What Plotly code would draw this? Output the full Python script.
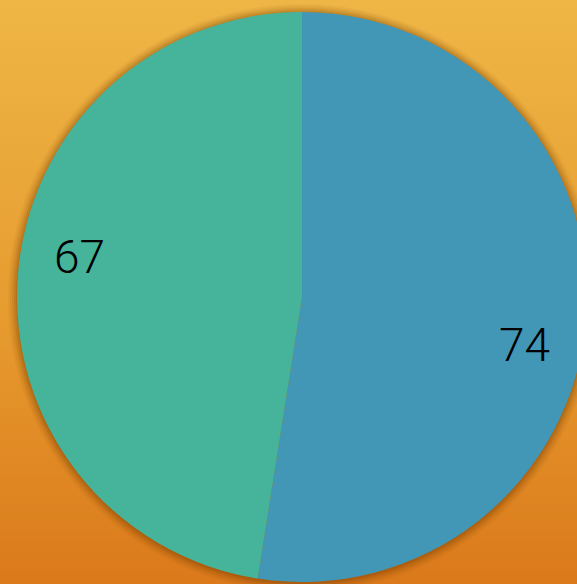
import base64
import math
import plotly.graph_objects as go

# ---- data ----
labels = ["Series A", "Series B"]
values = [74, 67]
slice_colors = ["#4297B6", "#45B49B"]

# ---- geometry (pixels) ----
FIG_W, FIG_H = 610, 600
CX, CY, R = 302, 297, 285
LABEL_R = 0.797 * R
LABEL_ANGLE_SHIFT = 6.7  # degrees, clockwise


def domain_for(cx, cy, r):
    return dict(
        x=[(cx - r) / FIG_W, (cx + r) / FIG_W],
        y=[(FIG_H - cy - r) / FIG_H, (FIG_H - cy + r) / FIG_H],
    )


fig = go.Figure()

# soft shadow halo behind the pie
for k, a in [(9, 0.05), (7, 0.08), (5, 0.11), (3, 0.14), (1, 0.18)]:
    fig.add_trace(go.Pie(
        values=[1], labels=["shadow"], sort=False,
        domain=domain_for(CX, CY + 1, R + k),
        marker=dict(colors=[f"rgba(120,60,0,{a})"], line=dict(width=0)),
        textinfo="none", hoverinfo="skip", showlegend=False,
    ))

fig.add_trace(go.Pie(
    labels=labels, values=values, sort=False,
    direction="clockwise", rotation=0,
    domain=domain_for(CX, CY, R),
    marker=dict(colors=slice_colors, line=dict(width=0)),
    textinfo="none",
    showlegend=False,
))

# value labels placed along each slice (angles derived from the values)
total = sum(values)
cum = 0
annotations = []
for v in values:
    mid = (cum + v / 2) / total * 360 + LABEL_ANGLE_SHIFT
    cum += v
    px = CX + LABEL_R * math.sin(math.radians(mid))
    py = CY - LABEL_R * math.cos(math.radians(mid))
    annotations.append(dict(
        x=px / FIG_W, y=1 - py / FIG_H, xref="paper", yref="paper",
        text=str(v), showarrow=False, xanchor="center", yanchor="middle",
        yshift=-4,
        font=dict(family="Roboto", size=46, color="#000000", weight=300),
    ))

svg = f'''<svg xmlns="http://www.w3.org/2000/svg" width="{FIG_W}" height="{FIG_H}">
<defs><linearGradient id="g" x1="0" y1="0" x2="0" y2="1">
<stop offset="0" stop-color="#EEB646"/>
<stop offset="0.55" stop-color="#E69A2E"/>
<stop offset="1" stop-color="#DA771A"/>
</linearGradient></defs>
<rect width="100%" height="100%" fill="url(#g)"/>
</svg>'''
bg_uri = "data:image/svg+xml;base64," + base64.b64encode(svg.encode()).decode()

fig.update_layout(
    width=FIG_W, height=FIG_H,
    margin=dict(l=0, r=0, t=0, b=0),
    paper_bgcolor="#E5992E",
    plot_bgcolor="rgba(0,0,0,0)",
    annotations=annotations,
    images=[dict(source=bg_uri, xref="paper", yref="paper", x=0, y=1,
                 sizex=1, sizey=1, sizing="stretch", layer="below",
                 xanchor="left", yanchor="top")],
)

fig.write_html(
    "out.html",
    config={"displayModeBar": False},
    post_script="document.body.style.margin='0';document.body.style.overflow='hidden';"
                "document.documentElement.style.overflow='hidden';",
)
